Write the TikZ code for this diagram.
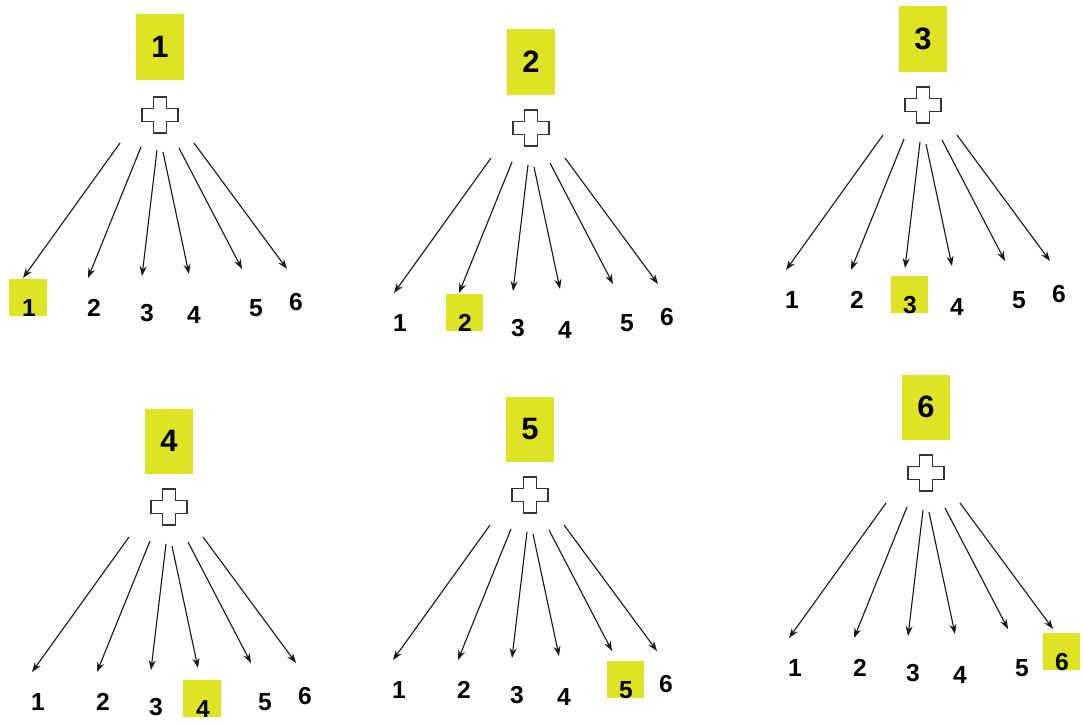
\documentclass[tikz,border=0pt]{standalone}
\usepackage{fontspec}
\setmainfont{Liberation Sans}
\usetikzlibrary{arrows.meta}

\definecolor{amarillo}{RGB}{222,227,36}

\tikzset{
  caja/.style={fill=amarillo, minimum width=1.2cm, minimum height=1.625cm, inner sep=0pt, font=\fontsize{22}{22}\selectfont\bfseries},
  marca/.style={fill=amarillo, minimum size=0.925cm, inner sep=0pt},
  num/.style={inner sep=0pt, font=\fontsize{17.5}{17.5}\selectfont\bfseries},
  flecha/.style={black!90, line width=0.8pt, -{Stealth[length=7pt, width=5pt]}},
  cruz/.style={draw=black!80, line width=1pt, fill=white}
}

\begin{document}
\begin{tikzpicture}[x=0.025cm, y=-0.025cm]
  \useasboundingbox (0,0) rectangle (1083,725);

  % Paneles
  \foreach \p/\px/\py/\cd in {1/160/113/2, 2/531/128/0, 3/923/105/0,
                              4/169/507/0, 5/530/495/0, 6/926/473/0}{
    \begin{scope}[shift={(\px,\py)}]
      % Caja superior
      \node[caja] (caja\p) at (0,-66) {\p};

      % Cruz
      \draw[cruz, shift={(0,\cd)}] (-18,-6.5) -- (-6.5,-6.5) -- (-6.5,-18) -- (6.5,-18) -- (6.5,-6.5) -- (18,-6.5)
        -- (18,6.5) -- (6.5,6.5) -- (6.5,18) -- (-6.5,18) -- (-6.5,6.5) -- (-18,6.5) -- cycle;

      % Flechas y numeros
      \foreach \i/\sx/\sy/\ex/\ey/\lx/\ly in {1/-40/30/-137/165/-131/195,
                                              2/-19/34/-72/165/-66/195,
                                              3/-3/37/-18/163/-13/200,
                                              4/3/39/29/161/34/202,
                                              5/19/35/82/156/96/195,
                                              6/34/30/127/156/136/189}{
        \coordinate (s\p-\i) at (\sx,\sy);
        \coordinate (e\p-\i) at (\ex,\ey);
        \draw[flecha] (s\p-\i) -- (e\p-\i);
        \ifnum\i=\p
          \node[marca] (marca\p) at (\lx-1,\ly-11) {};
        \fi
        \node[num] (n\p-\i) at (\lx,\ly) {\i};
      }
    \end{scope}
  }
\end{tikzpicture}
\end{document}
